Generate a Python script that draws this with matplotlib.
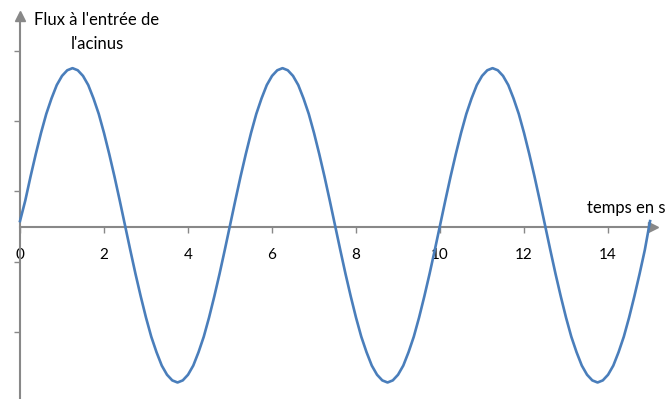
import matplotlib.pyplot as plt
import numpy as np

plt.rcParams['font.family'] = ['Lato', 'DejaVu Sans']

# flux every 0.125 s
time = np.arange(121) * 0.125
flux = [
    0.08, 0.37, 0.71, 1.03, 1.33, 1.60, 1.82, 2.01, 2.14, 2.22,
    2.25, 2.22, 2.14, 2.01, 1.82, 1.60, 1.33, 1.03, 0.71, 0.37,
    0.02, -0.33, -0.67, -0.99, -1.29, -1.56, -1.78, -1.97, -2.10, -2.18,
    -2.21, -2.18, -2.10, -1.97, -1.78, -1.56, -1.29, -0.99, -0.67, -0.33,
    0.02, 0.37, 0.71, 1.03, 1.33, 1.60, 1.82, 2.01, 2.14, 2.22,
    2.25, 2.22, 2.14, 2.01, 1.82, 1.60, 1.33, 1.03, 0.71, 0.37,
    0.02, -0.33, -0.67, -0.99, -1.29, -1.56, -1.78, -1.97, -2.10, -2.18,
    -2.21, -2.18, -2.10, -1.97, -1.78, -1.56, -1.29, -0.99, -0.67, -0.33,
    0.02, 0.37, 0.71, 1.03, 1.33, 1.60, 1.82, 2.01, 2.14, 2.22,
    2.25, 2.22, 2.14, 2.01, 1.82, 1.60, 1.33, 1.03, 0.71, 0.37,
    0.02, -0.33, -0.67, -0.99, -1.29, -1.56, -1.78, -1.97, -2.10, -2.18,
    -2.21, -2.18, -2.10, -1.97, -1.78, -1.56, -1.29, -0.99, -0.67, -0.33,
    0.08,
]
xticks = [0, 2, 4, 6, 8, 10, 12, 14]
yticks = [-1.5, -0.5, 0.5, 1.5, 2.5]

axis_color = '#888888'

fig = plt.figure(figsize=(6.67, 3.99), dpi=100)
ax = fig.add_axes([20 / 667, 1 / 399, 633 / 667, 382 / 399])

ax.plot(time, flux, color='#4a7ebb', lw=1.9, clip_on=False, zorder=3)

ax.set_xlim(0, 15.07)
ax.set_ylim(-2.43, 2.99)

for s in ['top', 'right']:
    ax.spines[s].set_visible(False)
ax.spines['left'].set_position(('data', 0))
ax.spines['bottom'].set_position(('data', 0))
for s in ['left', 'bottom']:
    ax.spines[s].set_color(axis_color)
    ax.spines[s].set_linewidth(1.5)

ax.set_xticks(xticks)
ax.set_xticklabels([str(v) for v in xticks])
ax.set_yticks(yticks)
ax.set_yticklabels([])
ax.tick_params(axis='both', direction='out', length=4, width=1, color=axis_color)
ax.tick_params(axis='x', labelsize=11, pad=11)

# arrow heads
ax.plot(1, 0, marker='>', ms=7, color=axis_color, transform=ax.get_yaxis_transform(), clip_on=False)
ax.plot(0, 1, marker='^', ms=7, color=axis_color, transform=ax.get_xaxis_transform(), clip_on=False)

fig.text(97 / 667, 1 - 12 / 399, "Flux à l'entrée de\nl'acinus", ha='center', va='top',
         fontsize=12, linespacing=1.65)
fig.text(587 / 667, 1 - 208 / 399, 'temps en s', ha='left', va='center', fontsize=12)

fig.savefig('out.png', dpi=100)
